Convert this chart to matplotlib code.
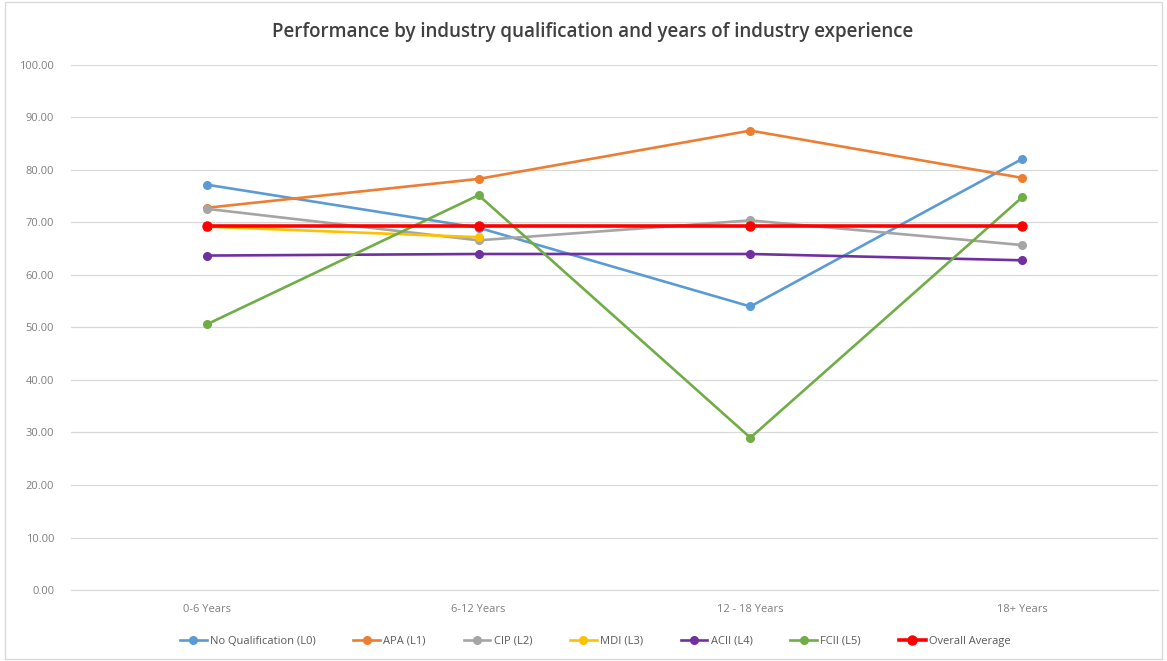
import numpy as np
import matplotlib.pyplot as plt
from matplotlib.patches import Rectangle

plt.rcParams['font.family'] = ['Open Sans', 'DejaVu Sans']

# ============================================================
# DATA
# ============================================================
categories = ["0-6 Years", "6-12 Years", "12 - 18 Years", "18+ Years"]

no_qual = [77.2, 69.0, 54.0, 82.1]
apa = [72.8, 78.3, 87.5, 78.5]
cip = [72.6, 66.6, 70.4, 65.7]
mdi = [69.2, 67.2, np.nan, np.nan]
acii = [63.7, 64.0, 64.0, 62.8]
fcii = [50.6, 75.2, 29.0, 74.8]
overall = [69.4, 69.4, 69.4, 69.4]

series_names = ["No Qualification (L0)", "APA (L1)", "CIP (L2)", "MDI (L3)",
                "ACII (L4)", "FCII (L5)", "Overall Average"]
series_vals = [no_qual, apa, cip, mdi, acii, fcii, overall]
colors = ["#5B9BD5", "#ED7D31", "#A5A5A5", "#FFC000", "#7030A0", "#70AD47", "#FF0000"]

# ============================================================
# PLOT
# ============================================================
fig = plt.figure(figsize=(11.67, 6.61), dpi=100)
ax = fig.add_axes([0.0608, 0.1074, 0.9315, 0.7943])

x = np.arange(len(categories))
for name, vals, col in zip(series_names, series_vals, colors):
    lw = 2.6 if name == "Overall Average" else 1.9
    ms = 6.5 if name == "Overall Average" else 5.5
    ax.plot(x, vals, '-o', color=col, lw=lw, ms=ms, label=name)

ax.set_xlim(-0.5, len(categories) - 0.5)
ax.set_ylim(0, 100)
ax.set_yticks(np.arange(0, 101, 10))
ax.set_yticklabels([f"{v:.2f}" for v in np.arange(0, 101, 10)])
ax.set_xticks(x)
ax.set_xticklabels(categories)

ax.grid(axis='y', color='#D9D9D9', lw=0.9)
ax.set_axisbelow(True)
for s in ['top', 'right', 'left']:
    ax.spines[s].set_visible(False)
ax.spines['bottom'].set_color('#D9D9D9')
ax.tick_params(axis='both', length=0, colors='#7F7F7F', labelsize=8)
ax.tick_params(axis='x', pad=10)
ax.tick_params(axis='y', pad=12)

fig.text(0.508, 0.952, "Performance by industry qualification and years of industry experience",
         ha='center', va='center', fontsize=13.5, color='#404040', fontweight='semibold')

fig.legend(loc='center', bbox_to_anchor=(0.51, 0.03), ncol=7, frameon=False,
           fontsize=8, labelcolor='#595959', handlelength=2.4,
           handletextpad=0.3, columnspacing=3.4)

fig.patches.append(Rectangle((0.004, 0.003), 0.992, 0.994, transform=fig.transFigure,
                             fill=False, edgecolor='#D9D9D9', lw=1))

fig.savefig("out.png", dpi=100)
